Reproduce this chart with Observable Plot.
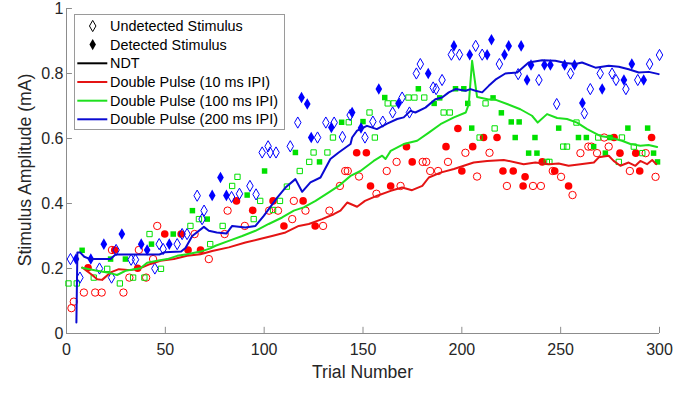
<!DOCTYPE html>
<html><head><meta charset="utf-8">
<script src="https://cdn.jsdelivr.net/npm/d3@7"></script>
<script src="https://cdn.jsdelivr.net/npm/@observablehq/plot@0.6"></script>
<style>body{margin:0;background:#fff}#chart{width:693px;height:396px}</style>
</head><body><div id="chart"></div>
<script>
// ---- data (trial, amplitude mA) ----
const xTicks = [0, 50, 100, 150, 200, 250, 300];
const yTicks = [0, 0.2, 0.4, 0.6, 0.8, 1];
const yTickLabels = ["0", "0.2", "0.4", "0.6", "0.8", "1"];
const legendLabels = ["Undetected Stimulus", "Detected Stimulus", "NDT", "Double Pulse (10 ms IPI)", "Double Pulse (100 ms IPI)", "Double Pulse (200 ms IPI)"];
const xLabel = "Trial Number";
const yLabel = "Stimulus Amplitude (mA)";

// 200 ms IPI (blue)
const undetected200 = [[2,0.229],[6.8,0.172],[16.7,0.20],[22.8,0.172],[25.1,0.257],[32.7,0.227],[34.9,0.227],[44.7,0.20],[46.9,0.275],[48.9,0.26],[56,0.275],[58.5,0.306],[61,0.306],[66.1,0.424],[69.6,0.378],[68.6,0.352],[83.5,0.42],[87.5,0.43],[92.8,0.454],[95.9,0.428],[99,0.557],[102,0.576],[103,0.557],[106,0.557],[113.2,0.576],[117,0.649],[127,0.603],[131.2,0.649],[135.4,0.649],[139.6,0.605],[143.5,0.672],[151,0.603],[155,0.652],[160,0.652],[165,0.68],[169.8,0.726],[173.5,0.68],[177,0.80],[179,0.829],[185.5,0.757],[187,0.752],[190,0.78],[194.7,0.858],[198.8,0.858],[207,0.885],[210.3,0.858],[219,0.829],[228.5,0.798],[239,0.78],[248,0.706],[255,0.80],[262,0.677],[265,0.752],[270,0.80],[276,0.80],[278,0.78],[283,0.752],[289,0.78],[295,0.829],[300,0.857]];
const detected200 = [[4.8,0.229],[12.3,0.229],[18.9,0.275],[28,0.306],[37.8,0.275],[40.8,0.257],[52,0.275],[73.7,0.425],[77.9,0.48],[80.9,0.425],[118.9,0.726],[121.8,0.706],[123.8,0.603],[134,0.634],[144.5,0.68],[149,0.632],[158,0.752],[168,0.708],[183,0.80],[196,0.885],[204,0.858],[212.8,0.858],[215,0.904],[221.6,0.858],[223.7,0.885],[230,0.885],[233,0.78],[235,0.826],[241.8,0.826],[244.8,0.826],[252,0.826],[257,0.826],[261,0.709],[271,0.752],[282,0.78],[286,0.829],[292,0.78]];
// 100 ms IPI (green)
const undetected100 = [[1,0.154],[5.2,0.154],[13.8,0.172],[20.6,0.199],[27,0.154],[33.7,0.172],[39.4,0.172],[42,0.306],[47.8,0.199],[62.7,0.331],[67,0.352],[72.7,0.275],[79,0.331],[83.8,0.454],[86.5,0.482],[94.7,0.352],[98,0.408],[104.5,0.38],[108,0.408],[111.5,0.452],[118,0.50],[122.8,0.528],[125,0.557],[132,0.557],[134.8,0.603],[142.8,0.650],[153.3,0.68],[156,0.603],[162.5,0.708],[165.5,0.708],[173,0.726],[176,0.726],[181,0.726],[190.8,0.68],[193.9,0.68],[209,0.603],[212,0.708],[216.6,0.631],[243,0.528],[244.3,0.528],[251.3,0.575],[253.2,0.575],[258,0.649],[269,0.603],[279.4,0.528],[281,0.603],[287,0.575],[291.3,0.555]];
const detected100 = [[7.9,0.256],[22.3,0.229],[29.8,0.229],[43,0.275],[54,0.306],[63.7,0.378],[71.2,0.352],[91.4,0.426],[100.2,0.50],[115.8,0.557],[128,0.528],[139.2,0.650],[150,0.652],[161,0.726],[178,0.753],[186,0.708],[188.8,0.725],[196.8,0.753],[201,0.753],[203,0.708],[205,0.632],[215.8,0.725],[220,0.679],[225,0.651],[229,0.651],[227,0.603],[237,0.603],[233.8,0.555],[238,0.555],[249,0.632],[259,0.603],[263,0.603],[266.7,0.575],[272.6,0.555],[275,0.603],[284,0.632],[294,0.632],[297,0.555],[299,0.528]];
// 10 ms IPI (red)
const undetected10 = [[2.5,0.078],[3.7,0.098],[8.8,0.126],[14.5,0.126],[17.8,0.126],[23,0.257],[28.8,0.126],[31.8,0.172],[36.6,0.257],[40.3,0.172],[43.8,0.229],[45.9,0.331],[64.8,0.306],[72,0.229],[80,0.306],[81.5,0.378],[90.2,0.331],[102.5,0.378],[107,0.378],[114.2,0.352],[115,0.408],[120.9,0.378],[129.8,0.331],[133,0.378],[138.3,0.454],[141,0.50],[142.3,0.50],[148,0.483],[156.8,0.43],[162,0.50],[167,0.528],[169,0.454],[180.2,0.528],[182,0.528],[184,0.50],[188,0.50],[193,0.528],[201.8,0.556],[207.7,0.483],[214,0.556],[222.8,0.454],[236,0.454],[240,0.454],[246,0.50],[250.2,0.482],[256,0.426],[260,0.555],[264,0.575],[265.6,0.575],[268.4,0.555],[272,0.603],[274.3,0.575],[285,0.50],[293,0.555],[298,0.482]];
const detected10 = [[10.9,0.202],[24.4,0.257],[36,0.201],[49.7,0.306],[58,0.306],[61.5,0.257],[67.8,0.257],[86,0.408],[94.2,0.379],[104.5,0.408],[110,0.331],[119.7,0.408],[125.8,0.331],[146.8,0.556],[151.7,0.556],[153.8,0.454],[164,0.454],[172,0.575],[174.9,0.528],[192,0.575],[198,0.631],[200,0.50],[205.5,0.575],[211,0.603],[217.8,0.603],[220.8,0.50],[226,0.50],[231,0.454],[232,0.482],[240.7,0.528],[247,0.50],[254,0.454],[277,0.603],[280,0.555],[288,0.555],[290,0.50],[296,0.603]];

// running threshold lines
const line200 = [[5,0.034],[5.5,0.249],[7,0.249],[9,0.236],[12,0.229],[22.3,0.229],[24.8,0.243],[47,0.243],[49.7,0.25],[58,0.252],[60.2,0.263],[63.6,0.30],[69.5,0.328],[72,0.316],[76,0.311],[81,0.308],[83.8,0.331],[90.5,0.326],[95.6,0.331],[99.8,0.362],[106.6,0.418],[110.8,0.449],[115.8,0.475],[119.2,0.436],[123.4,0.465],[128.5,0.48],[133.5,0.537],[137.7,0.557],[143.7,0.583],[144.5,0.603],[147,0.624],[152,0.639],[157,0.629],[162.2,0.646],[167.3,0.66],[170.6,0.665],[174,0.685],[176.5,0.68],[181.6,0.695],[186.6,0.721],[190,0.726],[193.4,0.742],[196.8,0.752],[201.9,0.747],[204.4,0.752],[206.9,0.747],[210.3,0.742],[213.6,0.762],[217,0.781],[222,0.80],[228,0.803],[233.8,0.834],[240.6,0.841],[247.3,0.839],[252.4,0.832],[257.5,0.829],[260.8,0.834],[267.6,0.818],[274.3,0.824],[279.4,0.821],[284.4,0.813],[289.5,0.803],[294.6,0.805],[299.6,0.798]];
const line100 = [[7.9,0.202],[15.5,0.193],[20.6,0.188],[25.6,0.18],[29.8,0.193],[37.4,0.201],[40.8,0.218],[45.9,0.224],[51,0.229],[56,0.239],[61,0.244],[67.8,0.252],[72.8,0.262],[75.4,0.27],[82.1,0.285],[88.9,0.30],[95.6,0.316],[102.3,0.337],[109.1,0.357],[115,0.378],[120,0.388],[126,0.408],[132.7,0.434],[137.7,0.454],[143.7,0.485],[148.7,0.50],[155.4,0.531],[159.7,0.547],[161.4,0.537],[164,0.562],[170.6,0.583],[177.4,0.593],[183.3,0.618],[189.2,0.644],[196,0.665],[202,0.68],[203.5,0.706],[205.2,0.839],[207.7,0.728],[213.6,0.72],[216.2,0.721],[222.9,0.706],[229.6,0.69],[235.5,0.67],[238.4,0.649],[243.1,0.675],[248.2,0.663],[253.2,0.66],[258.3,0.649],[263.4,0.629],[270,0.608],[275,0.603],[281,0.593],[285.3,0.583],[290.3,0.578],[294.5,0.58],[298.8,0.574]];
const line10 = [[7.9,0.203],[13,0.18],[15.5,0.167],[18,0.165],[22.3,0.188],[26.5,0.198],[32.4,0.195],[37.4,0.201],[42.5,0.214],[47.5,0.224],[54.3,0.229],[61,0.239],[67.8,0.244],[73.7,0.254],[82.1,0.265],[90.5,0.28],[97.3,0.29],[104,0.30],[110.8,0.311],[117.5,0.331],[122.6,0.337],[129.3,0.352],[135.2,0.367],[138.6,0.378],[142,0.403],[147,0.39],[151,0.408],[157.2,0.424],[164,0.439],[169.8,0.449],[174.8,0.441],[180,0.454],[183.3,0.48],[189.2,0.495],[196,0.506],[201,0.516],[206,0.526],[212.8,0.531],[221.2,0.534],[231.3,0.521],[237.2,0.526],[244,0.521],[249,0.523],[254,0.516],[260,0.521],[266.8,0.526],[269.3,0.542],[274.3,0.547],[276.8,0.531],[280.2,0.516],[284.4,0.526],[287.8,0.516],[290.3,0.531],[293.7,0.521],[296.3,0.534],[298.3,0.521]];

// ---- styles ----
const FONT = "'Liberation Sans', Arial, Helvetica, sans-serif";
const AXIS = "#8c8c8c";
const BLUE = "#0000ff", GREEN = "#00e000", RED = "#ff0000";
const BLUE_L = "#0a0ad2", GREEN_L = "#1ee01e", RED_L = "#e41414";

const pts = a => a.map(([x, y]) => ({x, y}));

const svg = Plot.plot({
  width: 693, height: 396,
  marginLeft: 66, marginRight: 34, marginTop: 8, marginBottom: 63,
  style: {fontFamily: FONT, fontSize: "16px", color: "#262626", background: "#fff", overflow: "visible"},
  x: {domain: [0, 300]},
  y: {domain: [0, 1]},
  marks: [
    Plot.ruleY([0], {stroke: AXIS, strokeWidth: 1}),
    Plot.ruleX([0], {stroke: AXIS, strokeWidth: 1}),
    Plot.ruleX(xTicks, {y1: 0, y2: 0.019, stroke: AXIS}),
    Plot.ruleY(yTicks, {x1: 0, x2: 3, stroke: AXIS}),
    Plot.axisX({ticks: xTicks, tickSize: 0, tickPadding: 10.5, label: null, fontSize: 16}),
    Plot.axisY({ticks: yTicks, tickSize: 0, tickPadding: 3, label: null, fontSize: 16,
      tickFormat: d => yTickLabels[yTicks.indexOf(d)]}),
    // points
    Plot.dot(pts(undetected10), {x: "x", y: "y", symbol: "circle", r: 3.7, stroke: RED, strokeWidth: 1, fill: "none"}),
    Plot.dot(pts(detected10), {x: "x", y: "y", symbol: "circle", r: 3.8, fill: RED, stroke: "none"}),
    Plot.dot(pts(undetected100), {x: "x", y: "y", symbol: "square", r: 3.0, stroke: GREEN, strokeWidth: 1, fill: "none"}),
    Plot.dot(pts(detected100), {x: "x", y: "y", symbol: "square", r: 3.1, fill: GREEN, stroke: "none"}),
    Plot.dot(pts(undetected200), {x: "x", y: "y", symbol: "diamond", r: 3.4, stroke: BLUE, strokeWidth: 1, fill: "none"}),
    Plot.dot(pts(detected200), {x: "x", y: "y", symbol: "diamond", r: 3.5, fill: BLUE, stroke: "none"}),
    // lines
    Plot.line(pts(line10), {x: "x", y: "y", stroke: RED_L, strokeWidth: 2}),
    Plot.line(pts(line100), {x: "x", y: "y", stroke: GREEN_L, strokeWidth: 2}),
    Plot.line(pts(line200), {x: "x", y: "y", stroke: BLUE_L, strokeWidth: 2})
  ]
});

const s = d3.select(svg);
// axis titles
s.append("text").text(xLabel)
  .attr("x", 362.5).attr("y", 372).attr("dy", "0.35em")
  .attr("text-anchor", "middle").attr("font-size", 17.6).attr("font-family", FONT).attr("fill", "#262626");
s.append("text").text(yLabel)
  .attr("transform", "translate(25,170) rotate(-90)").attr("dy", "0.35em")
  .attr("text-anchor", "middle").attr("font-size", 17.6).attr("font-family", FONT).attr("fill", "#262626");

// legend
const lg = s.append("g").attr("font-family", FONT).attr("font-size", 14.4).attr("fill", "#000")
  .attr("text-anchor", "start");
lg.append("rect").attr("x", 74.5).attr("y", 14.5).attr("width", 210).attr("height", 115)
  .attr("fill", "#fff").attr("stroke", "#9a9a9a").attr("stroke-width", 1);
const rows = [26, 44.6, 63.3, 82, 100.7, 119.3];
const diamond = d3.symbol(d3.symbolDiamond, Math.PI * 3.4 * 3.4)();
lg.append("path").attr("d", diamond).attr("transform", `translate(92.7,${rows[0]})`)
  .attr("fill", "none").attr("stroke", "#000").attr("stroke-width", 1);
lg.append("path").attr("d", diamond).attr("transform", `translate(92.7,${rows[1]})`)
  .attr("fill", "#000");
const lineColors = [null, null, "#000", RED_L, GREEN_L, BLUE_L];
rows.forEach((y, i) => {
  if (lineColors[i]) {
    lg.append("line").attr("x1", 77.3).attr("x2", 107.3).attr("y1", y).attr("y2", y)
      .attr("stroke", lineColors[i]).attr("stroke-width", 2);
  }
  lg.append("text").text(legendLabels[i]).attr("x", 110).attr("y", y).attr("dy", "0.35em")
    .attr("text-anchor", "start");
});

document.getElementById("chart").appendChild(svg);
</script>
</body></html>
